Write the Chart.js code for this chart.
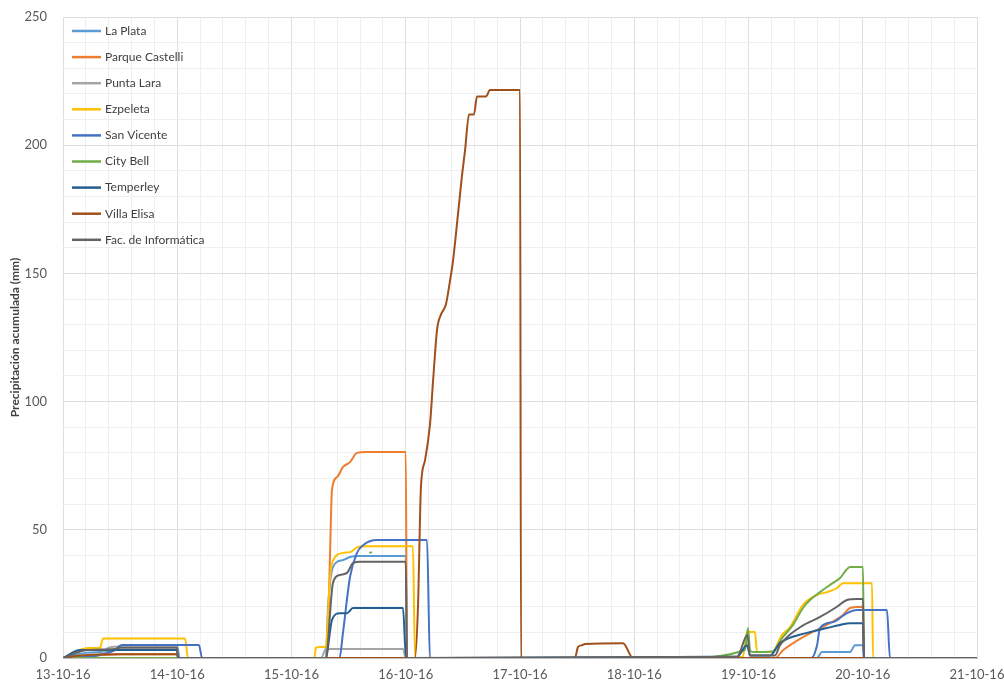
<!DOCTYPE html>
<html>
<head>
<meta charset="utf-8">
<script src="https://cdn.jsdelivr.net/npm/chart.js@4"></script>
<style>
  html, body { margin: 0; padding: 0; background: #fff; }
  #wrap { width: 1004px; height: 682px; position: relative; }
</style>
</head>
<body>
<div id="wrap"><canvas id="c"></canvas></div>
<script>
// ---- Data (x = day of October 2016, decimal; y = accumulated precipitation mm) ----
const seriesNames = ["La Plata", "Parque Castelli", "Punta Lara", "Ezpeleta", "San Vicente",
                     "City Bell", "Temperley", "Villa Elisa", "Fac. de Informática"];
const seriesColors = ["#5B9BD5", "#ED7D31", "#A5A5A5", "#FFC000", "#4472C4",
                      "#70AD47", "#255E91", "#A0501A", "#636363"];

const laPlataX = [13.0, 13.2, 13.45, 13.52, 14.0, 14.02, 15.30, 15.32, 15.363, 15.451, 15.512, 15.582, 16.0, 16.011, 19.60, 19.643, 19.889, 19.932, 20.0, 20.011, 21.0];
const laPlataY = [0, 2, 3, 4.8, 4.8, 0, 0, 20, 35.5, 38.2, 39.4, 39.8, 39.8, 0, 0, 2.3, 2.3, 5, 5, 0, 0];

const castelliX = [13.0, 13.3, 13.5, 14.0, 14.01, 15.31, 15.337, 15.354, 15.40, 15.451, 15.512, 15.573, 15.65, 16.0, 16.011, 19.232, 19.302, 19.512, 19.687, 19.827, 19.889, 20.0, 20.011, 20.72];
const castelliY = [0, 1, 1.5, 1.5, 0, 0, 40, 65.5, 70.6, 74.5, 76.4, 80, 80.3, 80.3, 0, 0, 3, 9, 13, 16.8, 19.5, 20, 0, 0];

const puntaLaraX = [13.0, 13.3, 13.4, 13.5, 14.0, 14.01, 15.26, 15.30, 15.976, 16.0, 20.72];
const puntaLaraY = [0, 1, 4, 4.5, 4.5, 0, 0, 3.5, 3.5, 0, 0];

const ezpeletaX = [13.0, 13.219, 13.324, 13.35, 14.068, 14.094, 15.2, 15.214, 15.25, 15.30, 15.337, 15.363, 15.451, 15.512, 15.582, 15.65, 16.063, 16.081, 18.7, 18.95, 18.987, 19.057, 19.074, 19.206, 19.293, 19.363, 19.477, 19.60, 19.687, 19.775, 19.827, 20.081, 20.09, 20.72];
const ezpeletaY = [0, 3.9, 3.9, 7.6, 7.6, 0, 0, 4, 4.3, 4.3, 31.6, 38, 41, 41.3, 43.3, 43.6, 43.6, 0, 0, 0.5, 10.1, 10.1, 2.3, 2.3, 9, 12, 20.7, 24.6, 25.7, 27.3, 29.2, 29.2, 0, 0];

const sanVicenteX = [13.0, 13.3, 13.45, 13.516, 14.19, 14.217, 15.42, 15.451, 15.512, 15.573, 15.626, 15.748, 16.186, 16.212, 19.55, 19.60, 19.626, 19.740, 19.862, 19.95, 20.212, 20.238, 21.0];
const sanVicenteY = [0, 1, 3, 5.1, 5.1, 0, 0, 10, 31.6, 41, 44, 46, 46, 0, 0, 5, 11.7, 14, 17.5, 18.7, 18.7, 0, 0];

const cityBellX = [13.0, 15.67, null, 15.68, 15.705, null, 15.72, 18.40, 18.969, 18.996, 19.013, 19.039, 19.206, 19.302, 19.389, 19.477, 19.538, 19.626, 19.713, 19.801, 19.889, 20.002, 20.011, 20.72];
const cityBellY = [0, 0, null, 41, 41.3, null, 0, 0, 3.1, 11.7, 3, 2.3, 2.5, 8.2, 12.9, 19.5, 22.6, 25.7, 28.5, 31.2, 35.5, 35.5, 0, 0];

const temperleyX = [13.0, 13.149, 13.998, 14.007, 15.30, 15.354, 15.424, 15.486, 15.538, 15.976, 16.002, 18.9, 18.987, 19.013, 19.188, 19.276, 19.512, 19.687, 19.801, 19.889, 20.002, 20.011, 20.72];
const temperleyY = [0, 3.1, 3.1, 0, 0, 14.8, 17.5, 17.5, 19.5, 19.5, 0, 0.5, 5, 1, 1, 5.8, 9.8, 11.7, 12.9, 13.6, 13.6, 0, 0];

const villaElisaX = [13.0, 13.15, 13.5, 13.998, 14.007, 16.081, 16.107, 16.133, 16.168, 16.212, 16.239, 16.274, 16.309, 16.352, 16.387, 16.414, 16.457, 16.492, 16.519, 16.554, 16.597, 16.624, 16.702, 16.737, 17.0, 17.009, 17.481, 17.508, 17.543, 17.569, 17.902, 17.989, 20.72];
const villaElisaY = [0, 1, 1.5, 1.5, 0, 0, 20, 66.7, 77, 91, 108, 128, 134, 138, 147, 155, 173, 188, 198, 212, 212, 219, 219, 221.5, 221.5, 0, 0, 4.3, 5, 5.5, 5.8, 0, 0];

const informaticaX = [13.0, 13.2, 13.45, 13.5, 13.998, 14.007, 15.30, 15.363, 15.424, 15.486, 15.538, 15.60, 16.0, 16.011, 18.9, 18.99, 19.013, 19.232, 19.276, 19.451, 19.626, 19.775, 19.862, 19.95, 20.002, 20.011, 21.0];
const informaticaY = [0, 3, 3.5, 4, 4, 0, 0, 29.3, 32.4, 33.2, 37, 37.5, 37.5, 0, 0.5, 9, 1, 1, 5, 12, 16, 20, 22.6, 23, 23, 0, 0];

const seriesX = [laPlataX, castelliX, puntaLaraX, ezpeletaX, sanVicenteX, cityBellX, temperleyX, villaElisaX, informaticaX];
const seriesY = [laPlataY, castelliY, puntaLaraY, ezpeletaY, sanVicenteY, cityBellY, temperleyY, villaElisaY, informaticaY];

const xTickDays = [13, 14, 15, 16, 17, 18, 19, 20, 21];
const yLabelStep = 50;
const yTitle = "Precipitación acumulada (mm)";

// ---- Build datasets ----
const datasets = seriesNames.map((name, i) => ({
  label: name,
  data: seriesX[i].map((x, k) => (x === null ? { x: (seriesX[i][k - 1] + seriesX[i][k + 1]) / 2, y: null } : { x: x, y: seriesY[i][k] })),
  borderColor: seriesColors[i],
  backgroundColor: seriesColors[i],
  borderWidth: 2,
  pointRadius: 0,
  pointHoverRadius: 0,
  cubicInterpolationMode: 'monotone',
  spanGaps: false,
  fill: false,
  order: seriesNames.length - i
}));

const FONT = "Lato, 'Open Sans', sans-serif";
const TXT = "#595959";

const insideLegend = {
  id: 'insideLegend',
  afterDatasetsDraw(chart) {
    const ctx = chart.ctx;
    const a = chart.chartArea;
    ctx.save();
    ctx.font = "12px " + FONT;
    ctx.textBaseline = 'middle';
    ctx.textAlign = 'left';
    chart.data.datasets.forEach((ds, i) => {
      const y = a.top + 14 + i * 26.1;
      ctx.strokeStyle = ds.borderColor;
      ctx.lineWidth = 2.5;
      ctx.beginPath();
      ctx.moveTo(a.left + 9, y);
      ctx.lineTo(a.left + 38, y);
      ctx.stroke();
      ctx.fillStyle = "#404040";
      ctx.fillText(ds.label, a.left + 42, y);
    });
    ctx.restore();
  }
};

new Chart(document.getElementById('c'), {
  type: 'line',
  data: { datasets },
  plugins: [insideLegend],
  options: {
    responsive: true,
    maintainAspectRatio: false,
    animation: false,
    layout: { padding: { top: 17, right: 27, left: 0, bottom: 0 } },
    plugins: { legend: { display: false }, tooltip: { enabled: false } },
    scales: {
      x: {
        type: 'linear',
        min: xTickDays[0],
        max: xTickDays[xTickDays.length - 1],
        afterBuildTicks(scale) {
          const t = [];
          for (let k = 0; k <= (xTickDays.length - 1) * 5; k++) t.push({ value: xTickDays[0] + k / 5 });
          scale.ticks = t;
        },
        afterFit(scale) { scale.height = 24; scale.paddingLeft = 0; scale.paddingRight = 0; },
        ticks: {
          autoSkip: false,
          maxRotation: 0,
          padding: 9,
          color: TXT,
          font: { family: FONT, size: 13 },
          callback(v) {
            const r = Math.round(v);
            return (Math.abs(v - r) < 1e-6 && xTickDays.includes(r)) ? r + "-10-16" : "";
          }
        },
        grid: {
          drawTicks: false,
          color(c) { const v = c.tick ? c.tick.value : 0; return Math.abs(v - Math.round(v)) < 1e-6 ? "#dedede" : "#efefef"; },
          lineWidth: 1
        },
        border: { display: true, color: "#bfbfbf", width: 1 }
      },
      y: {
        min: 0,
        max: 250,
        afterBuildTicks(scale) {
          const t = [];
          for (let v = 0; v <= 250; v += 10) t.push({ value: v });
          scale.ticks = t;
        },
        afterFit(scale) { scale.width = 63; scale.paddingTop = 0; scale.paddingBottom = 0; },
        ticks: {
          autoSkip: false,
          padding: 16,
          color: TXT,
          font: { family: FONT, size: 13 },
          callback(v) { return v % yLabelStep === 0 ? String(v) : ""; }
        },
        grid: {
          drawTicks: false,
          color(c) { const v = c.tick ? c.tick.value : 0; return v % yLabelStep === 0 ? "#dedede" : "#efefef"; },
          lineWidth: 1
        },
        border: { display: false },
        title: {
          display: true,
          text: yTitle,
          color: "#404040",
          font: { family: FONT, size: 12, weight: 'bold' },
          padding: { top: 8, bottom: 0 }
        }
      }
    }
  }
});
</script>
</body>
</html>
